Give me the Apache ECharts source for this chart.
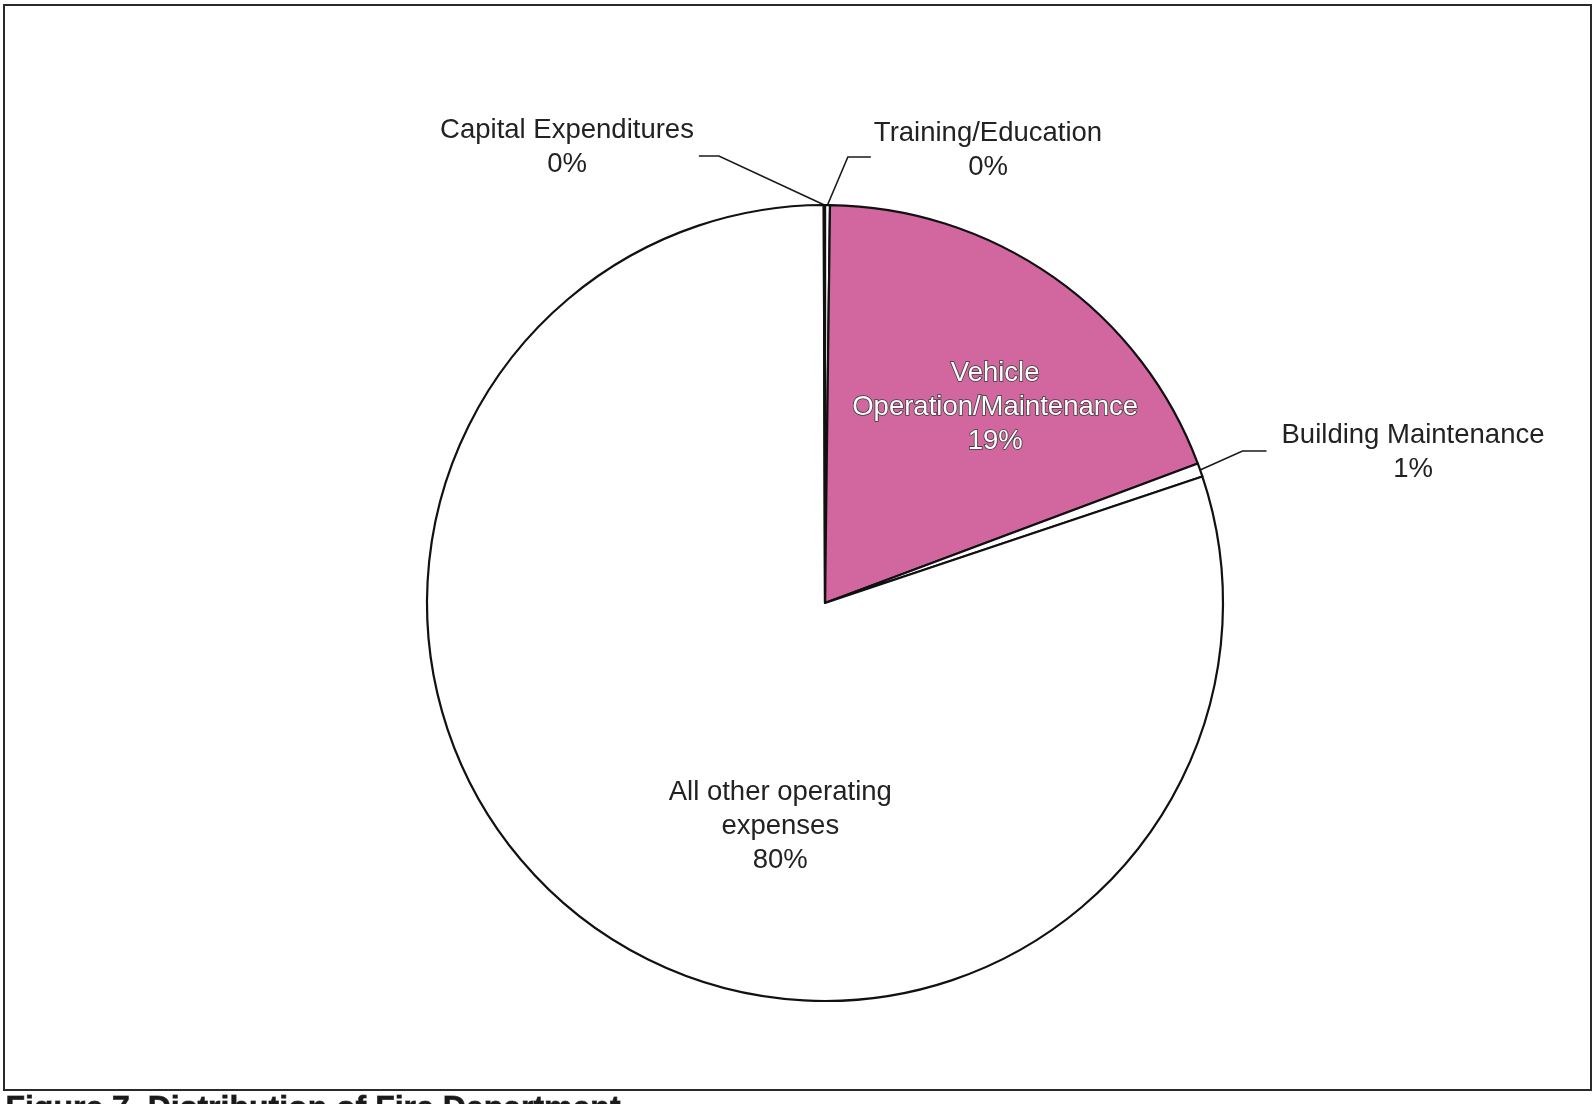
<!DOCTYPE html>
<html>
<head>
<meta charset="utf-8">
<title>Fire Department Expenditures</title>
<script src="https://cdn.jsdelivr.net/npm/echarts@6/dist/echarts.min.js"></script>
<style>
  html, body { margin: 0; padding: 0; background: #ffffff; }
  #chart { width: 1592px; height: 1104px; }
</style>
</head>
<body>
<div id="chart"></div>
<script>
// Expense categories, clockwise from 12 o'clock
var categories = [
  'Training/Education',
  'Vehicle Operation/Maintenance',
  'Building Maintenance',
  'All other operating expenses',
  'Capital Expenditures'
];
// Wrapped versions of the category names used in the slice labels
var labelText = [
  'Training/Education',
  'Vehicle\nOperation/Maintenance',
  'Building Maintenance',
  'All other operating\nexpenses',
  'Capital Expenditures'
];
// Share of the budget (percent)
var shares = [0.2, 19.1, 0.55, 80.1, 0.05];

var sliceColors = ['#ffffff', '#d2669e', '#ffffff', '#ffffff', '#ffffff'];
var insideLabel = [false, true, false, true, false];

// Pie geometry
var CX = 825, CY = 603, R = 398;

// Callout placement for the small slices: label block centre,
// side of the pie, gap to leader, horizontal leader length, leader height offset
var callouts = {
  0: { x: 988, y: 150, side: 'right', gap: 3, len: 23, dy: 7 },
  2: { x: 1413, y: 452, side: 'right', gap: 15, len: 24, dy: -1 },
  4: { x: 567, y: 147, side: 'left', gap: 5, len: 20, dy: 9 }
};
var labelShift = {
  1: { dx: 54, dy: -30 },
  3: { dx: 73, dy: 59 }
};

// Mid angle (clockwise from 12 o'clock, degrees) of each slice
var total = shares.reduce(function (a, b) { return a + b; }, 0);
var midAngle = [];
(function () {
  var acc = 0;
  for (var i = 0; i < shares.length; i++) {
    var a = shares[i] / total * 360;
    midAngle.push(acc + a / 2);
    acc += a;
  }
})();

function edgePoint(i) {
  var t = midAngle[i] * Math.PI / 180;
  return [CX + R * Math.sin(t), CY - R * Math.cos(t)];
}

var font = '"Liberation Sans", Arial, Helvetica, sans-serif';

var pieData = categories.map(function (name, i) {
  var inside = insideLabel[i];
  return {
    name: name,
    value: shares[i],
    itemStyle: { color: sliceColors[i] },
    label: inside ? {
      position: 'inside',
      color: i === 1 ? '#ffffff' : '#222222',
      textBorderColor: i === 1 ? '#3a3a3a' : 'transparent',
      textBorderWidth: i === 1 ? 1.6 : 0
    } : {
      position: 'outside',
      color: '#222222'
    },
    labelLine: inside ? { show: false } : {
      show: true,
      length: 20,
      length2: 20,
      minTurnAngle: 0,
      lineStyle: { color: '#1a1a1a', width: 1.6 }
    }
  };
});

var chart = echarts.init(document.getElementById('chart'), null, { renderer: 'canvas' });

chart.setOption({
  animation: false,
  backgroundColor: '#ffffff',
  graphic: [
    {
      type: 'rect',
      shape: { x: 4, y: 5, width: 1587, height: 1085 },
      style: { fill: 'none', stroke: '#2a2a2a', lineWidth: 2 },
      silent: true,
      z: 0
    },
    {
      type: 'text',
      left: 5,
      top: 1093,
      style: {
        text: 'Figure 7. Distribution of Fire Department',
        font: 'bold 32px "Liberation Sans", Arial, sans-serif',
        fill: '#1a1a1a',
        stroke: '#666666',
        lineWidth: 0.8
      },
      silent: true,
      z: 5
    }
  ],
  series: [{
    type: 'pie',
    center: [CX, CY],
    radius: R,
    startAngle: 90,
    clockwise: true,
    avoidLabelOverlap: false,
    percentPrecision: 0,
    minAngle: 0,
    itemStyle: { borderColor: '#111111', borderWidth: 2.2 },
    emphasis: { disabled: true },
    label: {
      show: true,
      formatter: function (p) {
        return labelText[p.dataIndex] + '\n' + p.percent + '%';
      },
      fontFamily: font,
      fontSize: 27.5,
      lineHeight: 34,
      align: 'center'
    },
    labelLayout: function (params) {
      var i = params.dataIndex;
      var c = callouts[i];
      if (c) {
        var w = params.labelRect.width;
        var ly = c.y + c.dy;
        var p0, p1;
        if (c.side === 'left') {
          p0 = [c.x + w / 2 + c.gap, ly];
          p1 = [p0[0] + c.len, ly];
        } else {
          p0 = [c.x - w / 2 - c.gap, ly];
          p1 = [p0[0] - c.len, ly];
        }
        return {
          x: c.x,
          y: c.y,
          align: 'center',
          verticalAlign: 'middle',
          labelLinePoints: [edgePoint(i), p1, p0]
        };
      }
      if (labelShift[i]) {
        return { dx: labelShift[i].dx, dy: labelShift[i].dy };
      }
      return {};
    },
    data: pieData
  }]
});
</script>
</body>
</html>
